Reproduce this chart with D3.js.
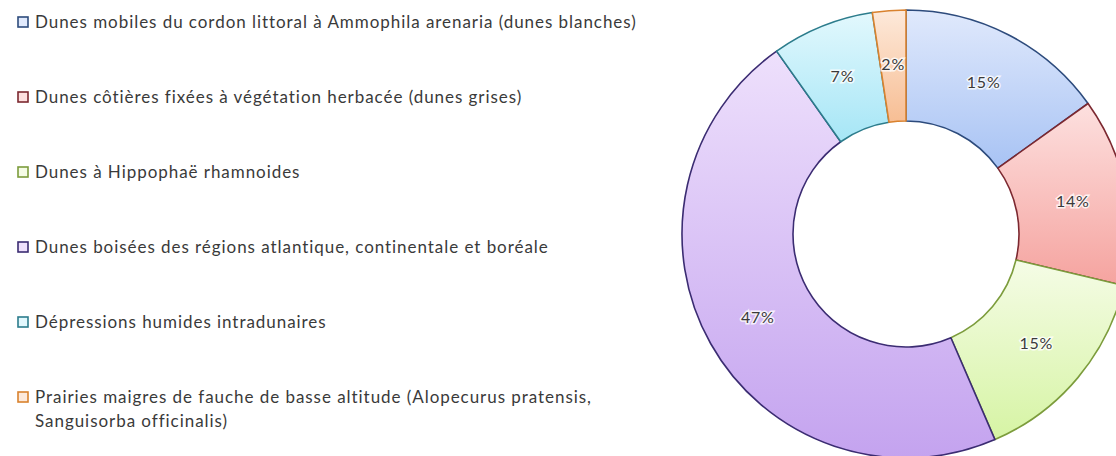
<!DOCTYPE html>
<meta charset="utf-8">
<style>
body { margin: 0; background: #fff; }
.legend text, .lbl { font-family: Lato, "Open Sans", sans-serif; fill: #3a3a3a; }
</style>
<body>
<div id="chart"></div>
<script src="https://d3js.org/d3.v7.min.js"></script>
<script>
// categories (legend order = slice order, clockwise from 12 o'clock)
var categories = [
  ["Dunes mobiles du cordon littoral à Ammophila arenaria (dunes blanches)"],
  ["Dunes côtières fixées à végétation herbacée (dunes grises)"],
  ["Dunes à Hippophaë rhamnoides"],
  ["Dunes boisées des régions atlantique, continentale et boréale"],
  ["Dépressions humides intradunaires"],
  ["Prairies maigres de fauche de basse altitude (Alopecurus pratensis,", "Sanguisorba officinalis)"]
];
var values = [15.1, 13.6, 14.8, 46.7, 7.4, 2.4];
var topColors = ["#e0e9fc", "#fde0df", "#f5fce6", "#eee0fc", "#e2f8fd", "#fde9da"];
var bottomColors = ["#a8c3f4", "#f5a39f", "#d6f4a4", "#c4a3ef", "#a6e6f6", "#f7be94"];
var strokeColors = ["#2d4b7c", "#7c2830", "#7c9c3c", "#3b2c72", "#2c7c8c", "#d9822e"];

var W = 1116, H = 456;
var cx = 906, cy = 234, outerR = 224, innerR = 113;

var svg = d3.select("#chart").append("svg")
    .attr("width", W)
    .attr("height", H);

var defs = svg.append("defs");
values.forEach(function(v, i) {
  var g = defs.append("linearGradient")
      .attr("id", "grad" + i)
      .attr("x1", 0).attr("y1", 0).attr("x2", 0).attr("y2", 1);
  g.append("stop").attr("offset", "0%").attr("stop-color", topColors[i]);
  g.append("stop").attr("offset", "100%").attr("stop-color", bottomColors[i]);
});

// donut
var pie = d3.pie().sort(null).value(function(d) { return d; });
var arc = d3.arc().innerRadius(innerR).outerRadius(outerR);
var labelArc = d3.arc().innerRadius(170).outerRadius(170);
var total = d3.sum(values);
var arcs = pie(values);

var g = svg.append("g")
    .attr("transform", "translate(" + cx + "," + cy + ")");

g.selectAll("path.slice")
    .data(arcs)
    .enter().append("path")
    .attr("class", "slice")
    .attr("d", arc)
    .attr("fill", function(d, i) { return "url(#grad" + i + ")"; })
    .attr("stroke", function(d, i) { return strokeColors[i]; })
    .attr("stroke-width", 1.6)
    .attr("stroke-linejoin", "round");

g.selectAll("text.lbl")
    .data(arcs)
    .enter().append("text")
    .attr("class", "lbl")
    .attr("transform", function(d) { return "translate(" + labelArc.centroid(d) + ")"; })
    .attr("text-anchor", "middle")
    .attr("dy", "0.35em")
    .style("font-size", "16px")
    .style("letter-spacing", "0.8px")
    .style("stroke", "#fff")
    .style("stroke-width", 3)
    .style("stroke-opacity", 0.8)
    .style("paint-order", "stroke")
    .text(function(d) { return Math.round(d.value / total * 100) + "%"; });

// legend
var legendY = d3.scalePoint()
    .domain(d3.range(categories.length))
    .range([22, 397]);

var legend = svg.append("g").attr("class", "legend");
var item = legend.selectAll("g")
    .data(categories)
    .enter().append("g")
    .attr("transform", function(d, i) { return "translate(0," + legendY(i) + ")"; });

item.append("rect")
    .attr("x", 18).attr("y", -5)
    .attr("width", 10).attr("height", 10)
    .attr("fill", function(d, i) { return topColors[i]; })
    .attr("stroke", function(d, i) { return strokeColors[i]; })
    .attr("stroke-width", 1.6);

item.append("text")
    .attr("x", 35)
    .attr("y", 0)
    .style("font-size", "17px")
    .style("letter-spacing", "0.95px")
    .selectAll("tspan")
    .data(function(d) { return d; })
    .enter().append("tspan")
    .attr("x", 35)
    .attr("dy", function(d, j) { return j === 0 ? "0.35em" : "1.4em"; })
    .text(function(d) { return d; });
</script>
</body>
